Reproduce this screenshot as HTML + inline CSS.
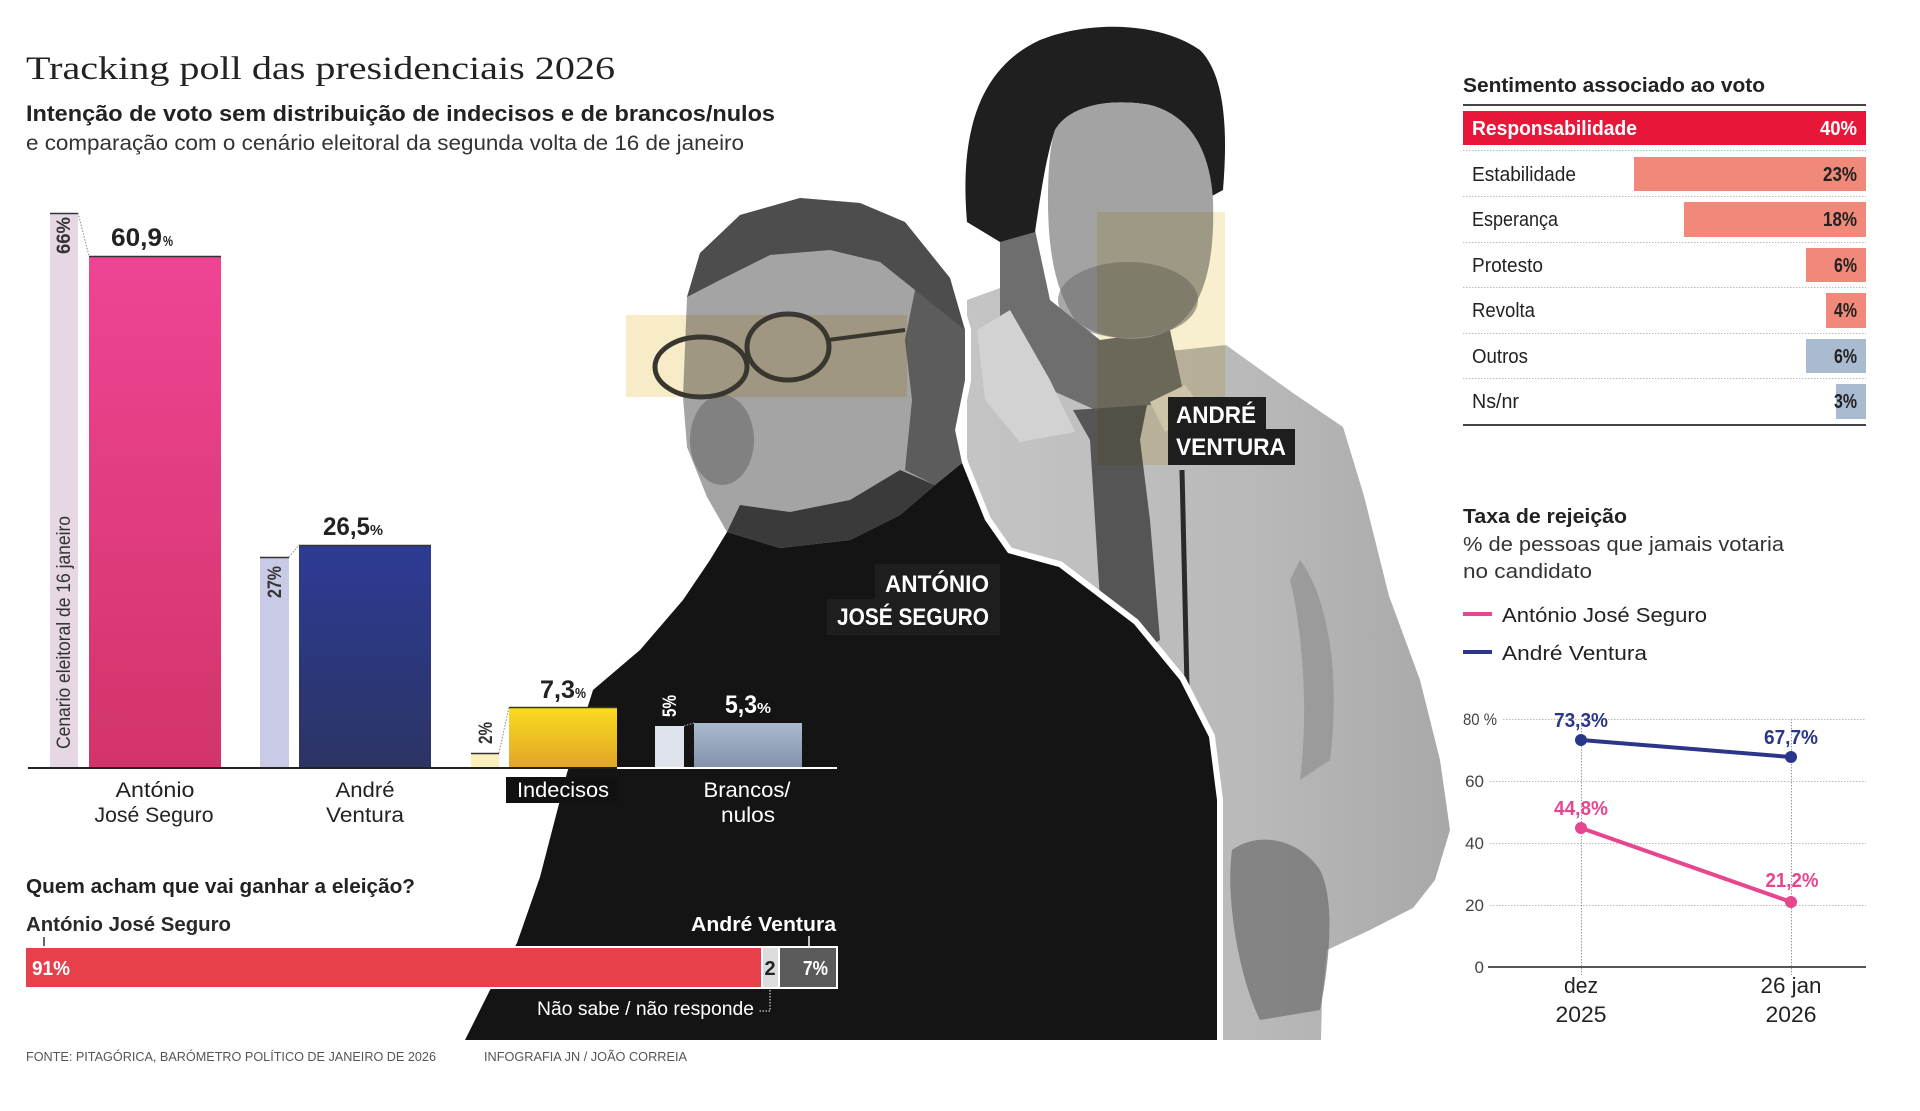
<!DOCTYPE html>
<html><head><meta charset="utf-8"><style>
html,body{margin:0;padding:0;background:#fff;}
svg{display:block;}
text{font-family:"Liberation Sans",Arial,sans-serif;}
</style></head><body>
<svg width="1920" height="1111" viewBox="0 0 1920 1111" xmlns="http://www.w3.org/2000/svg">
<defs>
<linearGradient id="gPink" x1="0" y1="0" x2="0" y2="1"><stop offset="0" stop-color="#ef4494"/><stop offset="1" stop-color="#d2346a"/></linearGradient>
<linearGradient id="gBlue" x1="0" y1="0" x2="0" y2="1"><stop offset="0" stop-color="#2d3b95"/><stop offset="1" stop-color="#2c3464"/></linearGradient>
<linearGradient id="gYel" x1="0" y1="0" x2="0" y2="1"><stop offset="0" stop-color="#fbdc1f"/><stop offset="1" stop-color="#e1a428"/></linearGradient>
<linearGradient id="gGray" x1="0" y1="0" x2="0" y2="1"><stop offset="0" stop-color="#abbacf"/><stop offset="1" stop-color="#8191aa"/></linearGradient>
<linearGradient id="gSuit" x1="0" y1="0" x2="1" y2="0"><stop offset="0" stop-color="#c4c4c4"/><stop offset="0.6" stop-color="#b9b9b9"/><stop offset="1" stop-color="#a8a8a8"/></linearGradient>
</defs>
<rect width="1920" height="1111" fill="#fff"/>

<!-- ===== Ventura photo ===== -->
<path d="M967 300 L1000 288 L1050 330 L1100 352 L1180 350 L1226 345 L1293 393 L1343 427 L1364 496 L1389 596 L1420 680 L1440 760 L1450 830 L1435 880 L1413 908 L1370 930 L1327 950 L1322 1000 L1321 1040 L1000 1040 L967 461 Z" fill="url(#gSuit)"/>
<path d="M1232 850 C1260 830 1300 840 1320 870 C1335 900 1330 960 1320 1010 L1260 1020 C1240 980 1225 900 1232 850 Z" fill="#6e6e6e" opacity="0.7"/>
<path d="M1300 560 C1330 600 1340 680 1330 760 L1300 780 C1310 700 1300 620 1290 580 Z" fill="#8a8a8a" opacity="0.6"/>
<path d="M1000 240 L1035 230 L1050 300 L1100 340 L1170 330 L1185 400 L1100 412 L1040 385 L1000 335 Z" fill="#6e6e6e"/>
<path d="M977 330 L1010 310 L1050 380 L1075 432 L1020 442 L985 400 Z" fill="#d2d2d2"/>
<path d="M1150 402 L1185 385 L1205 412 L1165 432 Z" fill="#d2d2d2"/>
<path d="M967 222 C960 140 975 70 1040 40 C1090 20 1160 22 1200 50 C1225 75 1228 130 1223 190 L1212 196 C1205 150 1190 115 1150 105 C1110 98 1070 105 1055 130 C1045 160 1040 200 1035 232 L1000 242 Z" fill="#1f1f1f"/>
<path d="M1055 130 C1070 105 1110 98 1150 105 C1190 115 1210 150 1213 200 C1215 260 1205 310 1170 330 C1140 345 1100 340 1075 320 C1055 290 1048 250 1048 200 C1048 170 1050 145 1055 130 Z" fill="#a3a3a3"/>
<ellipse cx="1128" cy="300" rx="70" ry="38" fill="#707070" opacity="0.6"/>
<path d="M1073 410 L1147 405 L1140 440 L1150 520 L1160 640 L1130 660 L1100 600 L1090 440 Z" fill="#555"/>
<line x1="1182" y1="470" x2="1188" y2="730" stroke="#2a2a2a" stroke-width="5"/>

<!-- ===== Seguro photo (white gap outline) ===== -->
<g stroke="#fff" stroke-width="12" stroke-linejoin="round">
<path d="M700 253 L740 215 L800 198 L860 203 L905 222 L950 278 L965 330 L965 380 L955 430 L962 463 L935 485 L900 515 L850 540 L780 548 L727 532 L707 497 L687 447 L683 397 L687 297 Z" fill="#a4a4a4"/>
<path d="M962 463 L985 520 L1008 553 L1059 567 L1134 624 L1180 680 L1209 737 L1217 800 L1217 1040 L465 1040 L490 990 L517 943 L540 877 L567 773 L593 690 L640 650 L683 600 L710 560 L727 532 L780 548 L850 540 L900 515 L935 485 Z" fill="#141414"/>
</g>
<path d="M700 253 L740 215 L800 198 L860 203 L905 222 L950 278 L965 330 L965 380 L955 430 L962 463 L935 485 L900 515 L850 540 L780 548 L727 532 L707 497 L687 447 L683 397 L687 297 Z" fill="#a4a4a4"/>
<path d="M962 463 L985 520 L1008 553 L1059 567 L1134 624 L1180 680 L1209 737 L1217 800 L1217 1040 L465 1040 L490 990 L517 943 L540 877 L567 773 L593 690 L640 650 L683 600 L710 560 L727 532 L780 548 L850 540 L900 515 L935 485 Z" fill="#141414"/>
<path d="M687 297 L700 253 L740 215 L800 198 L860 203 L905 222 L950 278 L965 330 L940 330 L915 290 L880 262 L830 250 L770 255 L720 280 Z" fill="#4d4d4d"/>
<path d="M915 290 L965 330 L965 380 L955 430 L962 463 L935 485 L905 470 L912 400 L905 340 Z" fill="#5c5c5c"/>
<path d="M727 532 L780 548 L850 540 L900 515 L935 485 L900 470 L850 500 L790 512 L740 505 Z" fill="#3a3a3a"/>
<ellipse cx="722" cy="440" rx="32" ry="45" fill="#6a6a6a" opacity="0.6"/>
<ellipse cx="701" cy="367" rx="46" ry="30" fill="none" stroke="#3a3a3a" stroke-width="5"/>
<ellipse cx="788" cy="347" rx="41" ry="33" fill="none" stroke="#3a3a3a" stroke-width="5"/>
<line x1="828" y1="340" x2="905" y2="330" stroke="#3a3a3a" stroke-width="4"/>

<!-- yellow highlight rects -->
<rect x="626" y="315" width="281" height="82" fill="#f7ebc8" style="mix-blend-mode:multiply"/>
<rect x="1097" y="212" width="128" height="253" fill="#f8efcf" style="mix-blend-mode:multiply"/>

<!-- name boxes -->
<rect x="875" y="564" width="125" height="36" fill="#1e1e1e"/>
<rect x="827" y="599" width="173" height="36" fill="#1e1e1e"/>
<text x="885" y="592" font-size="24" font-weight="bold" fill="#fff" textLength="104" lengthAdjust="spacingAndGlyphs">ANTÓNIO</text>
<text x="837" y="625" font-size="24" font-weight="bold" fill="#fff" textLength="152" lengthAdjust="spacingAndGlyphs">JOSÉ SEGURO</text>
<rect x="1168" y="397" width="98" height="33" fill="#1e1e1e"/>
<rect x="1168" y="429" width="127" height="36" fill="#1e1e1e"/>
<text x="1176" y="423" font-size="24" font-weight="bold" fill="#fff" textLength="80" lengthAdjust="spacingAndGlyphs">ANDRÉ</text>
<text x="1176" y="455" font-size="24" font-weight="bold" fill="#fff" textLength="110" lengthAdjust="spacingAndGlyphs">VENTURA</text>

<!-- ===== Titles ===== -->
<text x="26" y="79" font-size="33" fill="#222" textLength="589" lengthAdjust="spacingAndGlyphs" style="font-family:'Liberation Serif',serif">Tracking poll das presidenciais 2026</text>
<text x="26" y="121" font-size="22" font-weight="bold" fill="#222" textLength="749" lengthAdjust="spacingAndGlyphs">Intenção de voto sem distribuição de indecisos e de brancos/nulos</text>
<text x="26" y="150" font-size="21" fill="#333" textLength="718" lengthAdjust="spacingAndGlyphs">e comparação com o cenário eleitoral da segunda volta de 16 de janeiro</text>

<!-- ===== Bar chart ===== -->
<rect x="50" y="213" width="28" height="555" fill="#e6d7e4"/>
<rect x="89" y="256" width="132" height="512" fill="url(#gPink)"/>
<rect x="260" y="557" width="29" height="211" fill="#c9cae6"/>
<rect x="299" y="545" width="132" height="223" fill="url(#gBlue)"/>
<rect x="471" y="753" width="28" height="15" fill="#fbefbe"/>
<rect x="509" y="707" width="108" height="61" fill="url(#gYel)"/>
<rect x="655" y="726" width="29" height="42" fill="#dfe3ec"/>
<rect x="694" y="723" width="108" height="45" fill="url(#gGray)"/>
<g stroke="#333" stroke-width="1.6">
<line x1="50" y1="213.5" x2="78" y2="213.5"/>
<line x1="89" y1="256.5" x2="221" y2="256.5"/>
<line x1="260" y1="557.5" x2="289" y2="557.5"/>
<line x1="299" y1="545.5" x2="431" y2="545.5"/>
<line x1="471" y1="753.5" x2="499" y2="753.5"/>
<line x1="509" y1="707.5" x2="617" y2="707.5"/>
</g>
<g stroke="#888" stroke-width="1" stroke-dasharray="1.5 1.5" fill="none">
<line x1="78" y1="213" x2="89" y2="256"/>
<line x1="289" y1="557" x2="299" y2="545"/>
<line x1="499" y1="753" x2="509" y2="707"/>
<line x1="684" y1="726" x2="694" y2="723" stroke="#bbb"/>
</g>
<line x1="28" y1="768" x2="617" y2="768" stroke="#222" stroke-width="2"/>
<line x1="617" y1="768" x2="837" y2="768" stroke="#fff" stroke-width="2"/>

<text x="111" y="246" font-size="25" font-weight="bold" fill="#222" textLength="51" lengthAdjust="spacingAndGlyphs">60,9</text>
<text x="163" y="246" font-size="15" font-weight="bold" fill="#222" textLength="10" lengthAdjust="spacingAndGlyphs">%</text>
<text x="323" y="535" font-size="25" font-weight="bold" fill="#222" textLength="47" lengthAdjust="spacingAndGlyphs">26,5</text>
<text x="370" y="535" font-size="15" font-weight="bold" fill="#222" textLength="13" lengthAdjust="spacingAndGlyphs">%</text>
<text x="540" y="698" font-size="25" font-weight="bold" fill="#222" textLength="35" lengthAdjust="spacingAndGlyphs">7,3</text>
<text x="575" y="698" font-size="15" font-weight="bold" fill="#222" textLength="11" lengthAdjust="spacingAndGlyphs">%</text>
<text x="725" y="713" font-size="25" font-weight="bold" fill="#fff" textLength="32" lengthAdjust="spacingAndGlyphs">5,3</text>
<text x="757" y="713" font-size="15" font-weight="bold" fill="#fff" textLength="14" lengthAdjust="spacingAndGlyphs">%</text>

<text transform="translate(70,254) rotate(-90)" font-size="19" font-weight="bold" fill="#333" textLength="37" lengthAdjust="spacingAndGlyphs">66%</text>
<text transform="translate(70,749) rotate(-90)" font-size="19" fill="#333" textLength="233" lengthAdjust="spacingAndGlyphs">Cenario eleitoral de 16 janeiro</text>
<text transform="translate(281,598) rotate(-90)" font-size="19" font-weight="bold" fill="#333" textLength="32" lengthAdjust="spacingAndGlyphs">27%</text>
<text transform="translate(492,744) rotate(-90)" font-size="19" font-weight="bold" fill="#333" textLength="22" lengthAdjust="spacingAndGlyphs">2%</text>
<text transform="translate(676,717) rotate(-90)" font-size="19" font-weight="bold" fill="#fff" textLength="22" lengthAdjust="spacingAndGlyphs">5%</text>

<text x="155" y="797" font-size="21" fill="#222" text-anchor="middle" textLength="79" lengthAdjust="spacingAndGlyphs">António</text>
<text x="154" y="822" font-size="21" fill="#222" text-anchor="middle" textLength="119" lengthAdjust="spacingAndGlyphs">José Seguro</text>
<text x="365" y="797" font-size="21" fill="#222" text-anchor="middle" textLength="59" lengthAdjust="spacingAndGlyphs">André</text>
<text x="365" y="822" font-size="21" fill="#222" text-anchor="middle" textLength="78" lengthAdjust="spacingAndGlyphs">Ventura</text>
<rect x="506" y="777" width="111" height="26" fill="#111"/>
<text x="563" y="797" font-size="21" fill="#fff" text-anchor="middle" textLength="92" lengthAdjust="spacingAndGlyphs">Indecisos</text>
<text x="747" y="797" font-size="21" fill="#fff" text-anchor="middle" textLength="87" lengthAdjust="spacingAndGlyphs">Brancos/</text>
<text x="748" y="822" font-size="21" fill="#fff" text-anchor="middle" textLength="54" lengthAdjust="spacingAndGlyphs">nulos</text>

<!-- ===== Quem acham ===== -->
<text x="26" y="893" font-size="20" font-weight="bold" fill="#222" textLength="389" lengthAdjust="spacingAndGlyphs">Quem acham que vai ganhar a eleição?</text>
<text x="26" y="931" font-size="20" font-weight="bold" fill="#2a2a2a" textLength="205" lengthAdjust="spacingAndGlyphs">António José Seguro</text>
<line x1="44" y1="937" x2="44" y2="947" stroke="#333" stroke-width="1.5"/>
<text x="836" y="931" font-size="20" font-weight="bold" fill="#fff" text-anchor="end" textLength="145" lengthAdjust="spacingAndGlyphs">André Ventura</text>
<line x1="809" y1="936" x2="809" y2="947" stroke="#fff" stroke-width="1.5"/>
<rect x="24" y="946" width="814" height="43" fill="#fff"/>
<rect x="26" y="948" width="735" height="39" fill="#e8404b"/>
<rect x="763" y="948" width="15" height="39" fill="#dcdcdc"/>
<rect x="780" y="948" width="56" height="39" fill="#5a5a5a"/>
<text x="32" y="975" font-size="20" font-weight="bold" fill="#fff" textLength="38" lengthAdjust="spacingAndGlyphs">91%</text>
<text x="770" y="975" font-size="20" font-weight="bold" fill="#222" text-anchor="middle">2</text>
<text x="803" y="975" font-size="20" font-weight="bold" fill="#fff" textLength="25" lengthAdjust="spacingAndGlyphs">7%</text>
<text x="537" y="1015" font-size="19" fill="#fff" textLength="217" lengthAdjust="spacingAndGlyphs">Não sabe / não responde</text>
<polyline points="770,990 770,1011 758,1011" fill="none" stroke="#fff" stroke-width="1" stroke-dasharray="1.5 1.5"/>

<!-- footer -->
<text x="26" y="1061" font-size="13" fill="#555" textLength="410" lengthAdjust="spacingAndGlyphs">FONTE: PITAGÓRICA, BARÓMETRO POLÍTICO DE JANEIRO DE 2026</text>
<text x="484" y="1061" font-size="13" fill="#555" textLength="203" lengthAdjust="spacingAndGlyphs">INFOGRAFIA JN / JOÃO CORREIA</text>

<!-- ===== Sentimento ===== -->
<text x="1463" y="92" font-size="20" font-weight="bold" fill="#222" textLength="302" lengthAdjust="spacingAndGlyphs">Sentimento associado ao voto</text>
<line x1="1463" y1="105" x2="1866" y2="105" stroke="#444" stroke-width="2"/>
<rect x="1463" y="111" width="403" height="34" fill="#e8173a"/>
<text x="1472" y="135" font-size="20" font-weight="bold" fill="#fff" textLength="165" lengthAdjust="spacingAndGlyphs">Responsabilidade</text>
<text x="1857" y="135" font-size="20" font-weight="bold" fill="#fff" text-anchor="end" textLength="37" lengthAdjust="spacingAndGlyphs">40%</text>
<g stroke="#bbb" stroke-width="1" stroke-dasharray="1.5 1.5">
<line x1="1463" y1="150.5" x2="1866" y2="150.5"/>
<line x1="1463" y1="196.5" x2="1866" y2="196.5"/>
<line x1="1463" y1="242.5" x2="1866" y2="242.5"/>
<line x1="1463" y1="287.5" x2="1866" y2="287.5"/>
<line x1="1463" y1="333.5" x2="1866" y2="333.5"/>
<line x1="1463" y1="378.5" x2="1866" y2="378.5"/>
</g>
<rect x="1634" y="157" width="232" height="34" fill="#f08979"/>
<rect x="1684" y="202" width="182" height="35" fill="#f08979"/>
<rect x="1806" y="248" width="60" height="34" fill="#f08979"/>
<rect x="1826" y="293" width="40" height="35" fill="#f08979"/>
<rect x="1806" y="339" width="60" height="34" fill="#a9bbd1"/>
<rect x="1836" y="384" width="30" height="35" fill="#a9bbd1"/>
<g font-size="20" fill="#222">
<text x="1472" y="181" textLength="104" lengthAdjust="spacingAndGlyphs">Estabilidade</text>
<text x="1472" y="226" textLength="86" lengthAdjust="spacingAndGlyphs">Esperança</text>
<text x="1472" y="272" textLength="71" lengthAdjust="spacingAndGlyphs">Protesto</text>
<text x="1472" y="317" textLength="63" lengthAdjust="spacingAndGlyphs">Revolta</text>
<text x="1472" y="363" textLength="56" lengthAdjust="spacingAndGlyphs">Outros</text>
<text x="1472" y="408" textLength="47" lengthAdjust="spacingAndGlyphs">Ns/nr</text>
</g>
<g font-size="20" font-weight="bold" fill="#222" text-anchor="end">
<text x="1857" y="181" textLength="34" lengthAdjust="spacingAndGlyphs">23%</text>
<text x="1857" y="226" textLength="34" lengthAdjust="spacingAndGlyphs">18%</text>
<text x="1857" y="272" textLength="23" lengthAdjust="spacingAndGlyphs">6%</text>
<text x="1857" y="317" textLength="23" lengthAdjust="spacingAndGlyphs">4%</text>
<text x="1857" y="363" textLength="23" lengthAdjust="spacingAndGlyphs">6%</text>
<text x="1857" y="408" textLength="23" lengthAdjust="spacingAndGlyphs">3%</text>
</g>
<line x1="1463" y1="425" x2="1866" y2="425" stroke="#444" stroke-width="2"/>

<!-- ===== Taxa de rejeição ===== -->
<text x="1463" y="523" font-size="20" font-weight="bold" fill="#222" textLength="164" lengthAdjust="spacingAndGlyphs">Taxa de rejeição</text>
<text x="1463" y="551" font-size="20" fill="#333" textLength="321" lengthAdjust="spacingAndGlyphs">% de pessoas que jamais votaria</text>
<text x="1463" y="578" font-size="20" fill="#333" textLength="129" lengthAdjust="spacingAndGlyphs">no candidato</text>
<line x1="1463" y1="614" x2="1492" y2="614" stroke="#e8458f" stroke-width="4"/>
<text x="1502" y="622" font-size="20" fill="#222" textLength="205" lengthAdjust="spacingAndGlyphs">António José Seguro</text>
<line x1="1463" y1="652" x2="1492" y2="652" stroke="#2b3589" stroke-width="4"/>
<text x="1502" y="660" font-size="20" fill="#222" textLength="145" lengthAdjust="spacingAndGlyphs">André Ventura</text>

<g stroke="#bbb" stroke-width="1" stroke-dasharray="1.5 1.5">
<line x1="1503" y1="719.5" x2="1866" y2="719.5"/>
<line x1="1490" y1="781.5" x2="1866" y2="781.5"/>
<line x1="1490" y1="843.5" x2="1866" y2="843.5"/>
<line x1="1490" y1="905.5" x2="1866" y2="905.5"/>
</g>
<g stroke="#999" stroke-width="1" stroke-dasharray="1.5 1.5">
<line x1="1581.5" y1="719" x2="1581.5" y2="975"/>
<line x1="1791.5" y1="719" x2="1791.5" y2="975"/>
</g>
<line x1="1488" y1="967" x2="1866" y2="967" stroke="#555" stroke-width="2"/>
<g font-size="17" fill="#444">
<text x="1463" y="725" textLength="34" lengthAdjust="spacingAndGlyphs">80 %</text>
<text x="1484" y="787" text-anchor="end">60</text>
<text x="1484" y="849" text-anchor="end">40</text>
<text x="1484" y="911" text-anchor="end">20</text>
<text x="1484" y="973" text-anchor="end">0</text>
</g>
<line x1="1581" y1="740" x2="1791" y2="757" stroke="#2b3589" stroke-width="4"/>
<line x1="1581" y1="828" x2="1791" y2="902" stroke="#e8458f" stroke-width="4"/>
<circle cx="1581" cy="740" r="6" fill="#2b3589"/>
<circle cx="1791" cy="757" r="6" fill="#2b3589"/>
<circle cx="1581" cy="828" r="6" fill="#e8458f"/>
<circle cx="1791" cy="902" r="6" fill="#e8458f"/>
<g font-size="20" font-weight="bold" text-anchor="middle">
<text x="1581" y="727" fill="#2b3589" textLength="54" lengthAdjust="spacingAndGlyphs">73,3%</text>
<text x="1791" y="744" fill="#2b3589" textLength="54" lengthAdjust="spacingAndGlyphs">67,7%</text>
<text x="1581" y="815" fill="#e8458f" textLength="54" lengthAdjust="spacingAndGlyphs">44,8%</text>
<text x="1792" y="887" fill="#e8458f" textLength="53" lengthAdjust="spacingAndGlyphs">21,2%</text>
</g>
<g font-size="22" fill="#222" text-anchor="middle">
<text x="1581" y="993" textLength="34" lengthAdjust="spacingAndGlyphs">dez</text>
<text x="1581" y="1022" textLength="51" lengthAdjust="spacingAndGlyphs">2025</text>
<text x="1791" y="993" textLength="61" lengthAdjust="spacingAndGlyphs">26 jan</text>
<text x="1791" y="1022" textLength="51" lengthAdjust="spacingAndGlyphs">2026</text>
</g>
</svg>
</body></html>
